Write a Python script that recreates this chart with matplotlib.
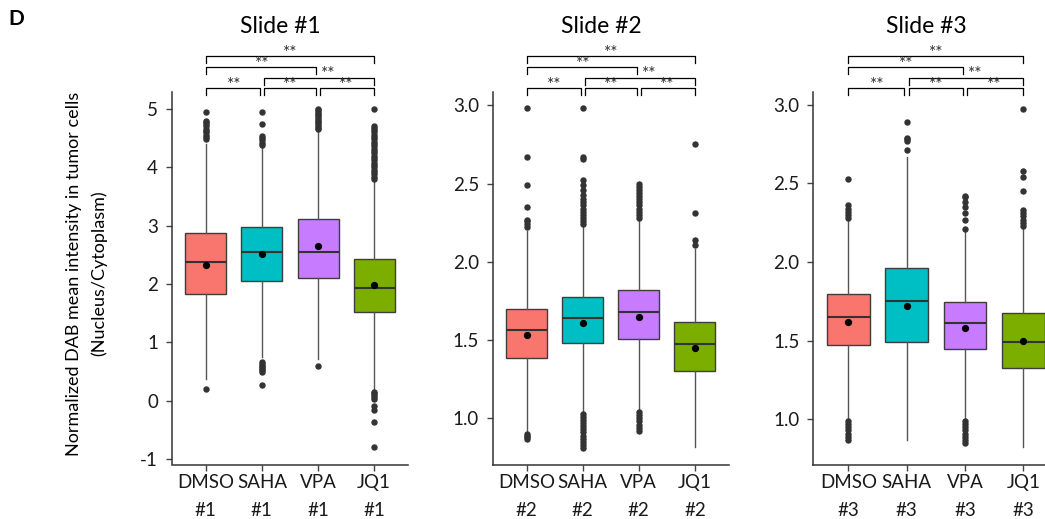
import matplotlib
matplotlib.use("Agg")
import matplotlib.pyplot as plt

plt.rcParams['font.family'] = ['Lato', 'DejaVu Sans']

groups = ['DMSO', 'SAHA', 'VPA', 'JQ1']
colors = ['#F8766D', '#00BFC4', '#C77CFF', '#7CAE00']
slides = ['#1', '#2', '#3']

# slide 1 box stats (DMSO, SAHA, VPA, JQ1)
s1_q1 = [1.83, 2.06, 2.10, 1.53]
s1_med = [2.38, 2.55, 2.55, 1.94]
s1_q3 = [2.87, 2.97, 3.11, 2.43]
s1_lo = [0.37, 0.75, 0.71, 0.17]
s1_hi = [4.40, 4.35, 4.62, 3.78]
s1_mean = [2.33, 2.51, 2.66, 1.99]
s1_fliers = [
    [0.21, 4.48, 4.52, 4.56, 4.60, 4.63, 4.66, 4.70, 4.74, 4.77, 4.80, 4.95],
    [0.28, 0.50, 0.52, 0.55, 0.58, 0.60, 0.63, 0.66, 4.38, 4.42, 4.46, 4.50, 4.53, 4.75, 4.95],
    [0.59, 4.65, 4.68, 4.71, 4.74, 4.77, 4.80, 4.83, 4.86, 4.89, 4.92, 4.95, 4.98, 5.00],
    [-0.79, -0.37, -0.16, -0.08, 0.04, 0.07, 0.10, 0.13, 0.16,
     3.80, 3.84, 3.88, 3.92, 3.96, 4.00, 4.04, 4.08, 4.12, 4.16, 4.20, 4.24, 4.28,
     4.32, 4.36, 4.40, 4.44, 4.48, 4.52, 4.56, 4.60, 4.64, 4.68, 4.71, 5.00],
]

# slide 2
s2_q1 = [1.385, 1.48, 1.51, 1.30]
s2_med = [1.565, 1.64, 1.68, 1.475]
s2_q3 = [1.70, 1.775, 1.82, 1.616]
s2_lo = [0.915, 1.04, 1.06, 0.817]
s2_hi = [2.20, 2.22, 2.27, 2.08]
s2_mean = [1.53, 1.61, 1.65, 1.45]
s2_fliers = [
    [0.87, 0.88, 0.89, 0.90, 2.22, 2.24, 2.26, 2.27, 2.35, 2.49, 2.67, 2.98],
    [0.81, 0.83, 0.85, 0.87, 0.89, 0.91, 0.93, 0.95, 0.97, 0.99, 1.01, 1.03,
     2.24, 2.26, 2.28, 2.30, 2.32, 2.34, 2.36, 2.38, 2.40, 2.43, 2.46, 2.49, 2.52, 2.66, 2.67, 2.98],
    [0.92, 0.94, 0.96, 0.98, 1.00, 1.02, 1.04,
     2.28, 2.30, 2.32, 2.34, 2.36, 2.38, 2.40, 2.42, 2.44, 2.46, 2.48, 2.50],
    [2.11, 2.14, 2.31, 2.75],
]

# slide 3
s3_q1 = [1.47, 1.495, 1.446, 1.327]
s3_med = [1.65, 1.75, 1.61, 1.49]
s3_q3 = [1.794, 1.96, 1.747, 1.676]
s3_lo = [1.00, 0.867, 1.00, 0.825]
s3_hi = [2.27, 2.67, 2.20, 2.215]
s3_mean = [1.617, 1.72, 1.58, 1.50]
s3_fliers = [
    [0.87, 0.89, 0.91, 0.93, 0.95, 0.97, 0.99, 2.28, 2.30, 2.32, 2.34, 2.36, 2.53],
    [2.71, 2.77, 2.78, 2.79, 2.89],
    [0.85, 0.87, 0.89, 0.91, 0.93, 0.95, 0.97, 0.99, 2.21, 2.27, 2.31, 2.35, 2.38, 2.41, 2.42],
    [2.23, 2.25, 2.27, 2.29, 2.31, 2.33, 2.45, 2.54, 2.58, 2.97],
]

# significance comparisons (group i, group j) and bracket level
pairs = [(0, 1), (1, 2), (2, 3), (1, 3), (0, 2), (0, 3)]
levels = [0, 0, 0, 1, 2, 3]
sig = ['**'] * 6

panels = [
    (s1_q1, s1_med, s1_q3, s1_lo, s1_hi, s1_mean, s1_fliers),
    (s2_q1, s2_med, s2_q3, s2_lo, s2_hi, s2_mean, s2_fliers),
    (s3_q1, s3_med, s3_q3, s3_lo, s3_hi, s3_mean, s3_fliers),
]
ylims = [(-1.09, 5.29), (0.705, 3.085), (0.714, 3.08)]
yticks = [[-1, 0, 1, 2, 3, 4, 5], [1.0, 1.5, 2.0, 2.5, 3.0], [1.0, 1.5, 2.0, 2.5, 3.0]]
ylabfmt = ['{:.0f}', '{:.1f}', '{:.1f}']

W, H = 1045, 519
fig = plt.figure(figsize=(W / 100, H / 100), dpi=100)
ax_px = [(172, 236), (493, 235.6), (813.3, 245)]
top_px, bot_px = 92, 464.5

bracket_y = [1.010, 1.038, 1.066, 1.096]
leg = 0.018

for k, (q1, med, q3, lo, hi, mean, fl) in enumerate(panels):
    left, width = ax_px[k]
    ax = fig.add_axes([left / W, (H - bot_px) / H, width / W, (bot_px - top_px) / H])
    stats = []
    for g in range(4):
        stats.append(dict(q1=q1[g], med=med[g], q3=q3[g], whislo=lo[g], whishi=hi[g],
                          mean=mean[g], fliers=fl[g]))
    pos = list(range(1, 5))
    bp = ax.bxp(stats, positions=pos, widths=0.73, patch_artist=True, showmeans=True,
                showcaps=False,
                boxprops=dict(edgecolor='#3d3d3d', linewidth=1.0),
                medianprops=dict(color='#333333', linewidth=1.5),
                whiskerprops=dict(color='#555555', linewidth=1.0),
                meanprops=dict(marker='o', markerfacecolor='black', markeredgecolor='black',
                               markersize=4.2),
                flierprops=dict(marker='o', markerfacecolor='#333333', markeredgecolor='#333333',
                                markersize=3.6))
    for patch, c in zip(bp['boxes'], colors):
        patch.set_facecolor(c)

    ax.set_xlim(0.4, 4.6)
    ax.set_ylim(*ylims[k])
    ax.set_xticks(pos)
    ax.set_xticklabels([f'{g}\n{slides[k]}' for g in groups], linespacing=1.75)
    ax.set_yticks(yticks[k])
    ax.set_yticklabels([ylabfmt[k].format(v) for v in yticks[k]])
    ax.tick_params(axis='y', labelsize=13.5, length=4, width=1, color='#444444', pad=6,
                   labelcolor='#1a1a1a')
    ax.tick_params(axis='x', labelsize=13.5, length=4, width=1, color='#444444', pad=3,
                   labelcolor='#1a1a1a')
    for s in ['top', 'right']:
        ax.spines[s].set_visible(False)
    for s in ['left', 'bottom']:
        ax.spines[s].set_color('#333333')
        ax.spines[s].set_linewidth(1.1)

    ax.set_title(f'Slide {slides[k]}', fontsize=16.5, x=0.46, y=1.158, pad=0)

    tr = ax.get_xaxis_transform()
    for (i, j), lv, s in zip(pairs, levels, sig):
        x0 = pos[i] + (0.04 if i > 0 else 0)
        x1 = pos[j] - (0.04 if j < 3 else 0)
        yb = bracket_y[lv]
        ax.plot([x0, x0, x1, x1], [yb - leg, yb, yb, yb - leg], color='black', lw=0.9,
                transform=tr, clip_on=False)
        xt = (pos[i] + pos[j]) / 2
        if (i, j) == (1, 3):
            xt += 0.18
        ax.text(xt, yb - 0.004, s, transform=tr, ha='center', va='baseline', fontsize=12.5,
                color='#333333')

fig.text(87 / W, 1 - 273.5 / H,
         'Normalized DAB mean intensity in tumor cells\n(Nucleus/Cytoplasm)',
         rotation=90, ha='center', va='center', fontsize=13, linespacing=1.65,
         multialignment='center')
fig.text(8 / W, 1 - 25 / H, 'D', fontsize=15, fontweight='bold', ha='left', va='baseline')

fig.savefig('out.png', dpi=100)
